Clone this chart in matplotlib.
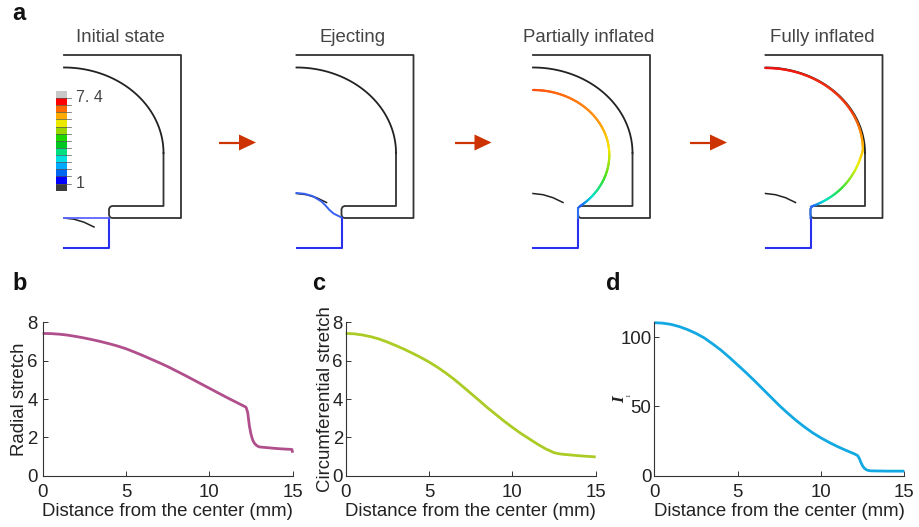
import numpy as np
import matplotlib
matplotlib.use("Agg")
import matplotlib.pyplot as plt
from matplotlib.collections import LineCollection
from matplotlib.colors import LinearSegmentedColormap
from matplotlib.patches import Rectangle, Polygon

plt.rcParams['font.family'] = ['Liberation Sans', 'DejaVu Sans']

# ---------- data: line charts ----------
dist_b = [0, .5, 1, 1.5, 2, 2.5, 3, 3.5, 4, 4.5, 5, 5.5, 6, 6.5, 7, 7.5, 8, 8.5, 9, 9.5, 10, 10.5, 11, 11.5, 12, 12.2,
          12.3, 12.4, 12.5, 12.6, 12.7, 12.8, 12.9, 13, 13.5, 14, 14.5, 14.95, 15]
radial = [7.42, 7.41, 7.38, 7.33, 7.26, 7.18, 7.09, 6.99, 6.88, 6.76, 6.62, 6.45, 6.27, 6.08, 5.89, 5.69, 5.47, 5.25,
          5.02, 4.79, 4.56, 4.33, 4.1, 3.88, 3.66, 3.57, 3.3, 2.6, 2.15, 1.86, 1.7, 1.6, 1.54, 1.5, 1.46, 1.42, 1.39, 1.37, 1.2]
dist_c = [0, .5, 1, 1.5, 2, 2.5, 3, 3.5, 4, 4.5, 5, 5.5, 6, 6.5, 7, 7.5, 8, 8.5, 9, 9.5, 10, 10.5, 11, 11.5, 12, 12.5,
          12.75, 13, 13.5, 14, 14.5, 15]
circum = [7.42, 7.40, 7.34, 7.25, 7.13, 6.97, 6.79, 6.6, 6.39, 6.17, 5.93, 5.66, 5.36, 5.03, 4.67, 4.3, 3.93, 3.55,
          3.2, 2.85, 2.52, 2.21, 1.93, 1.65, 1.4, 1.2, 1.15, 1.12, 1.08, 1.04, 1.01, 0.98]
dist_d = [0, .5, 1, 1.5, 2, 2.5, 3, 3.5, 4, 4.5, 5, 5.5, 6, 6.5, 7, 7.5, 8, 8.5, 9, 9.5, 10, 10.5, 11, 11.5, 12, 12.2,
          12.3, 12.4, 12.5, 12.6, 12.7, 12.8, 13, 13.5, 14, 15]
i1_vals = [110.5, 110.2, 109.3, 107.7, 105.5, 102.8, 99.5, 95.2, 90.7, 85.5, 80, 74.5, 68.7, 62.7, 56.7, 50.7, 45.2, 40,
           35.3, 31, 27.3, 24, 21, 18.3, 15.8, 14.5, 12.5, 9.5, 7, 5.4, 4.5, 3.9, 3.5, 3.4, 3.3, 3.3]
x_ticks = [0, 5, 10, 15]
stretch_ticks = [0, 2, 4, 6, 8]
i1_ticks = [0, 50, 100]
x_title = "Distance from the center (mm)"
panels = [
    ("b", dist_b, radial, stretch_ticks, 8, "#b04f8c", "Radial stretch"),
    ("c", dist_c, circum, stretch_ticks, 8, "#abcb25", "Circumferential stretch"),
    ("d", dist_d, i1_vals, i1_ticks, 110.8, "#12a8e2", ""),
]

# ---------- data: schematic (pixel space of the figure) ----------
state_titles = ["Initial state", "Ejecting", "Partially inflated", "Fully inflated"]
state_offsets = [0, 232.5, 469, 701.5]
title_centers = [120, 353, 589, 822]
outer_x = [64, 181, 181, 112, 110, 109, 109, 110, 112, 163.5, 163.5]
outer_y = [55, 55, 218, 218, 217.3, 215, 209, 207, 206, 206, 153]
dome_center = (64, 153)
dome_rx, dome_ry = 99.5, 85.5
small_arc_x = [0, 10, 20, 30]
small_arc_y = [0, 1.2, 4.2, 9]
small_arc_y0 = [218, 193.5, 193.5, 193.5]
tube_x = [109, 109, 64]
tube_y = [218, 248, 248]
eject_x = [64, 72, 80, 89, 93, 97, 101, 105, 109]
eject_y = [193, 193.8, 196, 201.5, 205.5, 210, 213.5, 215.5, 217.5]
bar_colors = ["#c8c8c8", "#ff0000", "#ff6a00", "#ffaa00", "#ece800", "#98d800", "#1cd800",
              "#00c820", "#00e080", "#00e0e0", "#00aaff", "#0068f0", "#0000ff", "#3c3c3c"]
bar_labels = ["7. 4", "1"]
arrow_starts = [219, 454.5, 690]
p3_stops = [(0, "#ff5010"), (0.42, "#ff9a10"), (0.6, "#f8e800"), (0.78, "#40e020"), (0.92, "#00e0d0"), (1, "#2060ff")]
p4_stops = [(0, "#f01010"), (0.45, "#f04010"), (0.6, "#ffa000"), (0.72, "#f0f000"), (0.86, "#30e040"), (0.95, "#00e0d0"), (1, "#2060ff")]

fig = plt.figure(figsize=(9.19, 5.27), dpi=100)
W, H = 919.0, 527.0
bg = fig.add_axes([0, 0, 1, 1])
bg.set_xlim(0, W); bg.set_ylim(H, 0); bg.axis("off")

BLK = "#222222"
OUT = "#333333"
BLUE = "#2a30f0"

def dome_pts(ox):
    t = np.linspace(0, np.pi/2, 80)
    return dome_center[0] + ox + dome_rx*np.sin(t), dome_center[1] - dome_ry*np.cos(t)

for i, ox in enumerate(state_offsets):
    bg.text(title_centers[i], 37, state_titles[i], ha="center", va="center", fontsize=13.4, color="#444444")
    bg.plot(np.array(outer_x) + ox, outer_y, color=OUT, lw=1.3, solid_joinstyle="round")
    dx, dy = dome_pts(ox)
    bg.plot(dx, dy, color=BLK, lw=1.3)
    bg.plot(np.array(small_arc_x) + 64 + ox, np.array(small_arc_y) + small_arc_y0[i], color=BLK, lw=1.1)
    bg.plot(np.array(tube_x) + ox, tube_y, color=BLUE, lw=1.5, solid_joinstyle="round")

# blue top edge, initial state
bg.plot([64, 109], [217.5, 217.5], color="#5a66ff", lw=1.3)
# ejecting membrane
bg.plot(np.array(eject_x) + state_offsets[1], eject_y, color="#3560f0", lw=1.4)

def grad_line(x, y, stops, lw=1.6):
    pts = np.column_stack([x, y]).reshape(-1, 1, 2)
    segs = np.concatenate([pts[:-1], pts[1:]], axis=1)
    cm = LinearSegmentedColormap.from_list("c", stops)
    lc = LineCollection(segs, cmap=cm, linewidths=lw, capstyle="round")
    lc.set_array(np.linspace(0, 1, len(segs)))
    bg.add_collection(lc)

# partially inflated membrane
a = np.linspace(0, np.arccos(-51.7/65), 160)
grad_line(533 + 76.3*np.sin(a), 155 - 65*np.cos(a), p3_stops)
bg.plot([578.3, 578.3], [208, 218], color="#2a70f0", lw=1.5)

# fully inflated membrane
a = np.linspace(0, np.pi/2, 110)
x1 = 765.3 + 97.6*np.sin(a); y1 = 68 + 82*(1 - np.cos(a))
t = np.linspace(0, 1, 60)[1:]
x2 = (1-t)**2*862.9 + 2*t*(1-t)*852 + t**2*811
y2 = (1-t)**2*150 + 2*t*(1-t)*192 + t**2*206.7
grad_line(np.r_[x1, x2], np.r_[y1, y2], p4_stops)
bg.plot([811.5, 810.5, 810.5], [207, 209, 218], color="#2a70f0", lw=1.5)

# colour bar
top, cell = 91.0, 99.7/len(bar_colors)
for k, c in enumerate(bar_colors):
    bg.add_patch(Rectangle((56, top + k*cell), 11, cell, fc=c, ec="none"))
    if k:
        bg.plot([56, 71], [top + k*cell]*2, color="#555555", lw=0.5)
bg.text(76, 98, bar_labels[0], ha="left", va="center", fontsize=11.5, color="#444444")
bg.text(76, 184, bar_labels[1], ha="left", va="center", fontsize=11.5, color="#444444")

# arrows
for x0 in arrow_starts:
    bg.plot([x0, x0 + 21], [142.5, 142.5], color="#cc3300", lw=1.6, solid_capstyle="butt")
    bg.add_patch(Polygon([(x0 + 20, 134.5), (x0 + 37, 142.5), (x0 + 20, 150.5)], fc="#cc3300", ec="none"))

# panel letters
for s, x, y in [("a", 12, 20.5), ("b", 12, 289.5), ("c", 312, 289.5), ("d", 606, 289.5)]:
    bg.text(x, y, s, ha="left", va="baseline", fontsize=17, fontweight="bold", color="#111111")

# line charts
ax_left = [42.7, 345.7, 654.3]
ax_w, ax_top, ax_bot = 250.0, 322.3, 475.7
ylab_x = [20, 325]
ypads = [3.5, 2, 2]
for j, (letter, xs, ys, yt, ymax, col, ylab) in enumerate(panels):
    ax = fig.add_axes([ax_left[j]/W, 1 - ax_bot/H, ax_w/W, (ax_bot - ax_top)/H])
    ax.patch.set_alpha(0)
    ax.plot(xs, ys, color=col, lw=2.0, clip_on=False, solid_capstyle="butt")
    ax.set_xlim(0, 15); ax.set_ylim(0, ymax)
    ax.set_xticks(x_ticks); ax.set_yticks(yt)
    ax.spines[["top", "right"]].set_visible(False)
    ax.spines[["left", "bottom"]].set_linewidth(0.8)
    ax.spines[["left", "bottom"]].set_color("#333333")
    ax.tick_params(direction="in", length=3.5, width=0.7, color="#333333", labelsize=13.4, labelcolor="#222222")
    ax.tick_params(axis="x", pad=6)
    ax.tick_params(axis="y", pad=ypads[j])
    bg.text(ax_left[j] + ax_w/2, 511.5, x_title, ha="center", va="center", fontsize=13.4, color="#222222")
    if ylab:
        bg.text(ylab_x[j], 399, ylab, rotation=90, ha="center", va="center", fontsize=13.4, color="#222222")

# I1 label
bg.text(620.5, 400, "I", rotation=90, ha="center", va="center", fontsize=12.5, family="Liberation Serif",
        style="italic", fontweight="bold", color="#222222")
bg.text(629, 395, "1", rotation=90, ha="center", va="center", fontsize=5, family="Liberation Serif", color="#222222")

fig.savefig("out.png", dpi=100)
